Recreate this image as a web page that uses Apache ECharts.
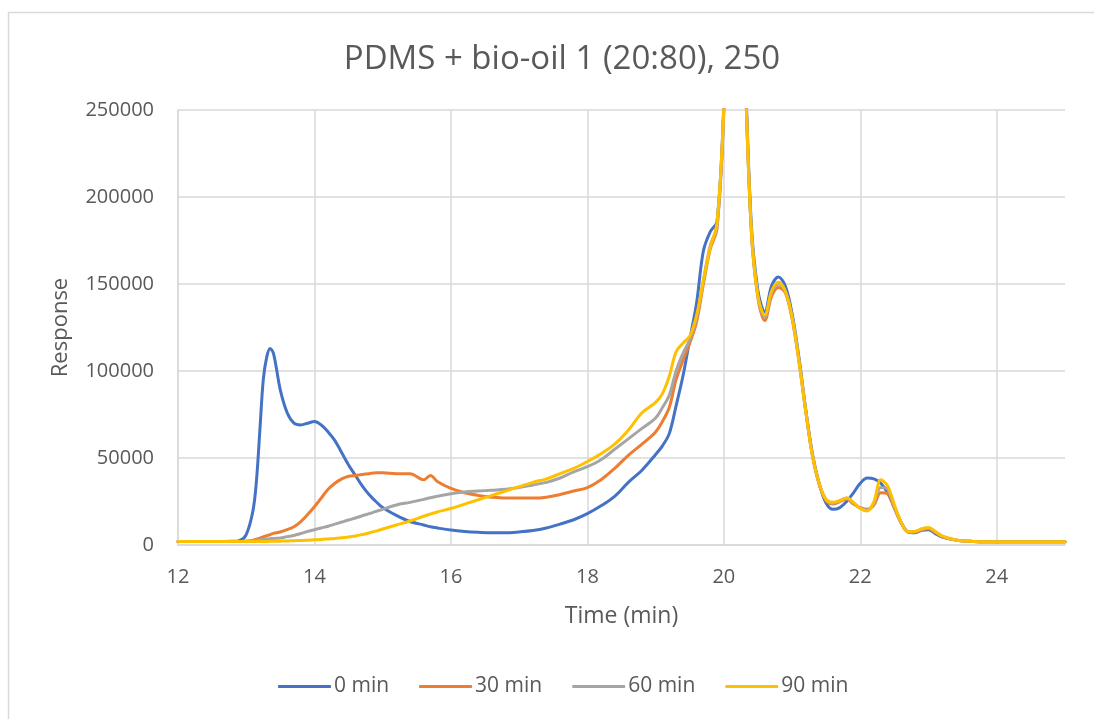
<!DOCTYPE html>
<html>
<head>
<meta charset="utf-8">
<script src="https://cdn.jsdelivr.net/npm/echarts@6/dist/echarts.min.js"></script>
<style>
  html, body { margin: 0; padding: 0; background: #ffffff; }
  #chart { width: 1094px; height: 719px; }
</style>
</head>
<body>
<div id="chart"></div>
<script>
// Retention time (min)
const times = [
  12.0, 12.5, 12.8, 12.9, 13.0, 13.1, 13.15, 13.2, 13.25, 13.3, 13.35, 13.4, 13.5, 13.6, 13.7, 13.8, 13.9,
  14.0, 14.1, 14.2, 14.3, 14.4, 14.5, 14.6, 14.7, 14.8, 14.9, 15.0, 15.2, 15.4, 15.6, 15.7, 15.8,
  16.0, 16.2, 16.4, 16.6, 16.8, 17.0, 17.2, 17.4, 17.6, 17.8, 18.0, 18.2, 18.4, 18.6, 18.8,
  19.0, 19.1, 19.2, 19.3, 19.4, 19.5, 19.6, 19.7, 19.8, 19.9, 20.0, 20.1, 20.2, 20.3, 20.4, 20.5,
  20.6, 20.7, 20.8, 20.9, 21.0, 21.1, 21.2, 21.3, 21.4, 21.5, 21.6, 21.7, 21.8, 21.9, 22.0, 22.1,
  22.2, 22.3, 22.4, 22.5, 22.6, 22.7, 22.8, 22.9, 23.0, 23.1, 23.2, 23.4, 23.6, 23.8, 24.0, 24.5, 25.0
];

const seriesNames = ['0 min', '30 min', '60 min', '90 min'];

const resp0 = [
  2000, 2000, 2100, 2500, 6000, 20000, 37000, 66000, 95000, 108000, 113000, 110000, 89000, 76000, 70000, 69000, 70000,
  71000, 69000, 65000, 60000, 53000, 46000, 40000, 34000, 29000, 25000, 21500, 17000, 13500, 11500, 10500, 9800,
  8600, 7800, 7300, 7000, 7000, 7500, 8300, 9800, 12000, 14500, 18000, 22500, 28000, 36000, 43000,
  52000, 57000, 64000, 80000, 97000, 118000, 139000, 169000, 180000, 186000, 254000, 380000, 420000, 292000, 186000, 146000,
  134000, 149000, 154000, 149000, 133000, 108000, 78000, 52000, 35000, 24000, 20500, 21500, 25000, 30000, 35500, 38500,
  38000, 35500, 30000, 21500, 13000, 7500, 7000, 8500, 8800, 6500, 4500, 2800, 2100, 1900, 1800, 1800, 1800
];

const resp30 = [
  2000, 2000, 2000, 2000, 2200, 2800, 3300, 4000, 4700, 5300, 6000, 6700, 7500, 8800, 10500, 13500, 17500,
  22000, 27000, 32000, 35500, 38000, 39500, 40000, 40500, 41000, 41500, 41500, 41000, 41000, 37500, 40000, 36500,
  32500, 30000, 28500, 27500, 27000, 27000, 27000, 27500, 29000, 31000, 33000, 37500, 44000, 51500, 58000,
  65000, 71000, 79000, 95000, 106000, 116000, 128000, 150000, 170000, 182000, 250000, 375000, 415000, 288000, 182000, 142000,
  129000, 143000, 148000, 145000, 130000, 106000, 77000, 51000, 34500, 25500, 23500, 25000, 26500, 23500, 21500, 20500,
  23000, 30000, 29500, 21000, 12500, 7500, 7300, 8800, 9300, 7200, 4800, 2800, 2100, 1900, 1800, 1800, 1800
];

const resp60 = [
  2000, 2000, 2000, 2000, 2200, 2500, 2700, 3000, 3200, 3400, 3600, 3800, 4000, 4800, 5500, 6600, 7800,
  8800, 9800, 10800, 12000, 13200, 14400, 15500, 16800, 18000, 19300, 20500, 23000, 24500, 26200, 27200, 28000,
  29500, 30500, 31000, 31500, 32000, 33000, 34500, 36000, 38500, 42000, 45000, 49000, 55000, 61000, 67000,
  73000, 79000, 86000, 100000, 110000, 118000, 130000, 152000, 172000, 183000, 250000, 376000, 416000, 288000, 183000, 143000,
  131000, 145000, 150000, 146000, 131000, 106000, 77000, 51000, 35000, 26000, 24000, 25500, 27000, 24000, 21000, 20000,
  24000, 33000, 32000, 22000, 12800, 7600, 7600, 9000, 9600, 7500, 5000, 2900, 2100, 1900, 1800, 1800, 1800
];

const resp90 = [
  2000, 2000, 2000, 2000, 2000, 2000, 2000, 2000, 2000, 2000, 2100, 2100, 2200, 2300, 2500, 2600, 2800,
  3000, 3200, 3500, 3800, 4200, 4600, 5200, 6000, 6900, 8000, 9200, 11500, 13800, 16500, 17800, 19000,
  21000, 23500, 26000, 28500, 31000, 33500, 36000, 38000, 41000, 44000, 48000, 52500, 58000, 66000, 76000,
  82000, 87000, 97000, 111000, 116000, 120000, 132000, 152000, 171000, 185000, 252000, 378000, 418000, 288000, 183000, 143000,
  132000, 146000, 151000, 146000, 131000, 106000, 77000, 51000, 35000, 26000, 24500, 25500, 27000, 24500, 21000, 19500,
  25000, 37500, 34000, 23000, 13000, 7600, 7800, 9300, 10000, 7800, 5200, 2900, 2100, 1900, 1800, 1800, 1800
];

const seriesValues = [resp0, resp30, resp60, resp90];
const seriesColors = ['#4472C4', '#ED7D31', '#A5A5A5', '#FFC000'];

const textColor = '#595959';
const gridColor = '#d9d9d9';
const fontFamily = "'Open Sans', 'Noto Sans', sans-serif";

const chart = echarts.init(document.getElementById('chart'), null, { renderer: 'canvas' });

const option = {
  backgroundColor: '#ffffff',
  animation: false,
  textStyle: { fontFamily: fontFamily, color: textColor },
  graphic: [{
    type: 'rect',
    shape: { x: 8.5, y: 12.5, width: 1110, height: 720 },
    style: { fill: 'none', stroke: gridColor, lineWidth: 1.5 },
    silent: true
  }],
  title: {
    text: 'PDMS + bio-oil 1 (20:80), 250',
    left: 557,
    top: 38,
    textAlign: 'center',
    textStyle: { fontFamily: fontFamily, fontSize: 33, fontWeight: 'normal', color: textColor }
  },
  legend: {
    bottom: 17,
    left: 273,
    itemWidth: 53,
    itemHeight: 3,
    itemGap: 30,
    icon: 'roundRect',
    textStyle: { fontFamily: fontFamily, fontSize: 21, color: textColor, padding: [0, 0, 0, -2] },
    data: seriesNames
  },
  grid: { left: 178, right: 29, top: 110, bottom: 174, containLabel: false },
  xAxis: {
    type: 'value',
    min: 12,
    max: 25,
    interval: 2,
    name: 'Time (min)',
    nameLocation: 'middle',
    nameGap: 60,
    nameTextStyle: { fontFamily: fontFamily, fontSize: 23, color: textColor },
    axisLine: { show: true, lineStyle: { color: gridColor, width: 1.5 } },
    axisTick: { show: false },
    axisLabel: { showMaxLabel: false, margin: 22, fontSize: 20, color: textColor, fontFamily: fontFamily },
    splitLine: { show: true, showMaxLine: false, lineStyle: { color: gridColor, width: 1.5 } }
  },
  yAxis: {
    type: 'value',
    min: 0,
    max: 250000,
    interval: 50000,
    name: 'Response',
    nameLocation: 'middle',
    nameGap: 106,
    nameTextStyle: { fontFamily: fontFamily, fontSize: 22, color: textColor },
    axisLine: { show: true, lineStyle: { color: gridColor, width: 1.5 } },
    axisTick: { show: false },
    axisLabel: { margin: 24, fontSize: 20, color: textColor, fontFamily: fontFamily, formatter: (v) => String(v) },
    splitLine: { show: true, lineStyle: { color: gridColor, width: 1.5 } }
  },
  series: seriesNames.map((name, i) => ({
    name: name,
    type: 'line',
    data: times.map((t, k) => [t, seriesValues[i][k]]),
    showSymbol: false,
    symbol: 'none',
    smooth: 0.35,
    clip: true,
    color: seriesColors[i],
    lineStyle: { color: seriesColors[i], width: 3, cap: 'round', join: 'round' },
    itemStyle: { color: seriesColors[i] }
  }))
};

chart.setOption(option);
</script>
</body>
</html>
